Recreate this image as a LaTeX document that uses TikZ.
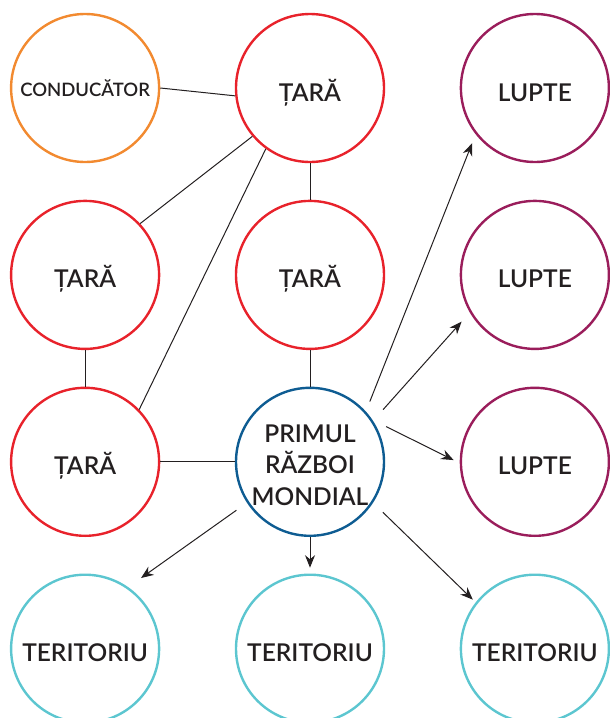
\documentclass[tikz,border=0pt]{standalone}
\usepackage{fontspec}
\setmainfont{Lato}[BoldFont={Lato Semibold}]
\usepackage{xcolor}
\usetikzlibrary{positioning,arrows.meta}

\definecolor{corange}{HTML}{F28A30}
\definecolor{tred}{HTML}{E8222B}
\definecolor{lmag}{HTML}{9A1D5B}
\definecolor{pblue}{HTML}{0E5C92}
\definecolor{tcyan}{HTML}{5CC6D0}
\definecolor{ink}{HTML}{231F20}

\begin{document}
\begin{tikzpicture}[
  x=1pt, y=1pt, >={Stealth[length=12.5pt,width=10pt]},
  bub/.style={draw, circle, line width=2.4pt, minimum size=148pt, inner sep=0pt,
              align=center, text=ink, font=\fontsize{24.5}{31.5}\selectfont\bfseries,
              text height=26pt, text depth=0pt},
  link/.style={line width=1pt, color=ink},
  arr/.style={->, line width=1pt, color=ink},
]
\useasboundingbox (0,0) rectangle (610,-718);

\node[bub, draw=tred] (t1) at (310,-88) {ȚARĂ};
\node[bub, draw=corange, font=\fontsize{18.5}{22}\selectfont\bfseries,
      text height=17.3pt, left=74.5pt of t1] (c) {CONDUCĂTOR};
\node[bub, draw=lmag, right=74.5pt of t1] (l1) {LUPTE};
\node[bub, draw=tred, below=36.5pt of c] (t2) {ȚARĂ};
\node[bub, draw=tred, below=36.5pt of t1] (t4) {ȚARĂ};
\node[bub, draw=lmag, below=36.5pt of l1] (l2) {LUPTE};
\node[bub, draw=tred, below=36.5pt of t2] (t3) {ȚARĂ};
\node[bub, draw=pblue, text height=, text depth=, below=36.5pt of t4] (p)
  {\rule{0pt}{24pt}PRIMUL\\RĂZBOI\\MONDIAL};
\node[bub, draw=lmag, below=36.5pt of l2] (l3) {LUPTE};
\node[bub, draw=tcyan, below=36.5pt of t3] (r1) {TERITORIU};
\node[bub, draw=tcyan, below=36.5pt of p] (r2) {TERITORIU};
\node[bub, draw=tcyan, below=36.5pt of l3] (r3) {TERITORIU};

% legaturi simple
\draw[link] (c.east) -- (t1.186);
\draw[link] (t1.220) -- (t2.43);
\draw[link] (t1.234.6) -- (t3.44.5);
\draw[link] (t1) -- (t4);
\draw[link] (t2) -- (t3);
\draw[link] (t4) -- (p);
\draw[link] (t3.east) -- (p.west);

% sageti din nodul central (nu ating cercurile)
\draw[arr, shorten <=10.7pt, shorten >=9.6pt] (p.42.9) -- (l1.218.9);
\draw[arr, shorten <=15pt, shorten >=12.3pt] (p.33) -- (l2.210.3);
\draw[arr, shorten <=15.4pt, shorten >=6.8pt] (p.34) -- (l3.181.5);
\draw[arr, shorten <=13.7pt, shorten >=4pt] (p.327.4) -- (r3.142);
\draw[arr, shorten >=5.8pt] (p.south) -- (r2.north);
\draw[arr, shorten <=12.9pt, shorten >=15.7pt] (p.213.7) -- (r1.55.9);
\end{tikzpicture}
\end{document}
